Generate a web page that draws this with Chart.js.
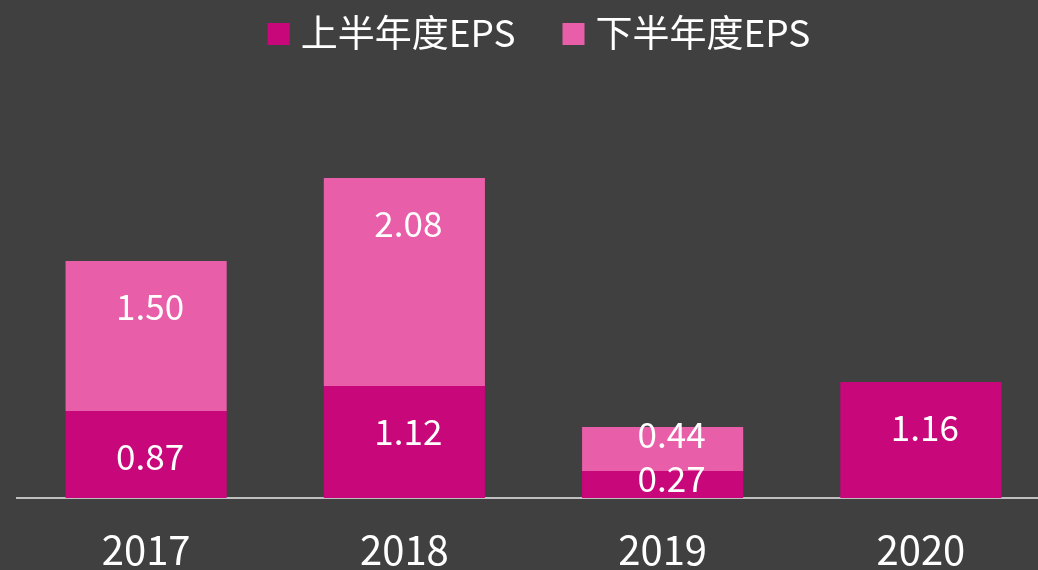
<!DOCTYPE html>
<html>
<head>
<meta charset="utf-8">
<script src="https://cdn.jsdelivr.net/npm/chart.js@4/dist/chart.umd.min.js"></script>
<style>
html,body{margin:0;padding:0;background:#404040;overflow:hidden;width:1038px;height:570px;}
canvas{display:block;}
</style>
</head>
<body>
<canvas id="c" width="1050" height="578"></canvas>
<script>
const categories = ['2017', '2018', '2019', '2020'];
const seriesNames = ['上半年度EPS', '下半年度EPS'];
const firstHalf = [0.87, 1.12, 0.27, 1.16];
const secondHalf = [1.50, 2.08, 0.44, null];
const seriesColors = ['#C8077A', '#E85EA8'];

const FONT = '"Noto Sans CJK TC", "Noto Sans CJK SC", "Noto Sans", sans-serif';

const labelPlugin = {
  id: 'barLabels',
  afterDatasetsDraw(chart) {
    const ctx = chart.ctx;
    ctx.save();
    ctx.fillStyle = '#FFFFFF';
    ctx.font = '35px ' + FONT;
    ctx.textAlign = 'center';
    ctx.textBaseline = 'middle';
    chart.data.datasets.forEach((ds, di) => {
      const meta = chart.getDatasetMeta(di);
      meta.data.forEach((bar, i) => {
        const v = ds.data[i];
        if (v === null || v === undefined) return;
        const h = bar.base - bar.y;
        const ty = h > 60 ? bar.y + 46 : bar.y + 8;
        const tx = h > 60 ? bar.x + 4 : bar.x + 9;
        ctx.fillText(v.toFixed(2), tx, ty);
      });
    });
    ctx.restore();
  }
};

const legendPlugin = {
  id: 'topLegend',
  afterDraw(chart) {
    const ctx = chart.ctx;
    ctx.save();
    ctx.font = '37px ' + FONT;
    ctx.textBaseline = 'middle';
    ctx.textAlign = 'left';
    const box = 22, boxH = 22, gapText = 11, gapItem = 47;
    const items = chart.data.datasets.map(d => ({ text: d.label, color: d.backgroundColor, w: ctx.measureText(d.label).width }));
    let total = 0;
    items.forEach((it, i) => { total += box + gapText + it.w + (i < items.length - 1 ? gapItem : 0); });
    let x = 539 - total / 2;
    const cy = 34;
    items.forEach(it => {
      ctx.fillStyle = it.color;
      ctx.fillRect(x, cy - boxH / 2, box, boxH);
      x += box + gapText;
      ctx.fillStyle = '#FFFFFF';
      ctx.fillText(it.text, x, cy - 1);
      x += it.w + gapItem;
    });
    ctx.restore();
  }
};

new Chart(document.getElementById('c'), {
  type: 'bar',
  data: {
    labels: categories,
    datasets: [
      { label: seriesNames[0], data: firstHalf, backgroundColor: seriesColors[0], stack: 's' },
      { label: seriesNames[1], data: secondHalf, backgroundColor: seriesColors[1], stack: 's' }
    ]
  },
  options: {
    responsive: false,
    animation: false,
    events: [],
    layout: { padding: { top: 98, left: 17, right: 0, bottom: 0 } },
    datasets: { bar: { barPercentage: 1, categoryPercentage: 0.624 } },
    plugins: {
      tooltip: { enabled: false },
      legend: { display: false }
    },
    scales: {
      x: {
        stacked: true,
        grid: { display: false, drawTicks: false },
        border: { display: true, color: '#BFBFBF', width: 2 },
        ticks: { color: '#FFFFFF', font: { family: FONT, size: 40 }, padding: 28 },
        afterFit: s => { s.height = 80; }
      },
      y: {
        display: false,
        stacked: true,
        min: 0,
        max: 4
      }
    }
  },
  plugins: [labelPlugin, legendPlugin]
});
</script>
</body>
</html>
